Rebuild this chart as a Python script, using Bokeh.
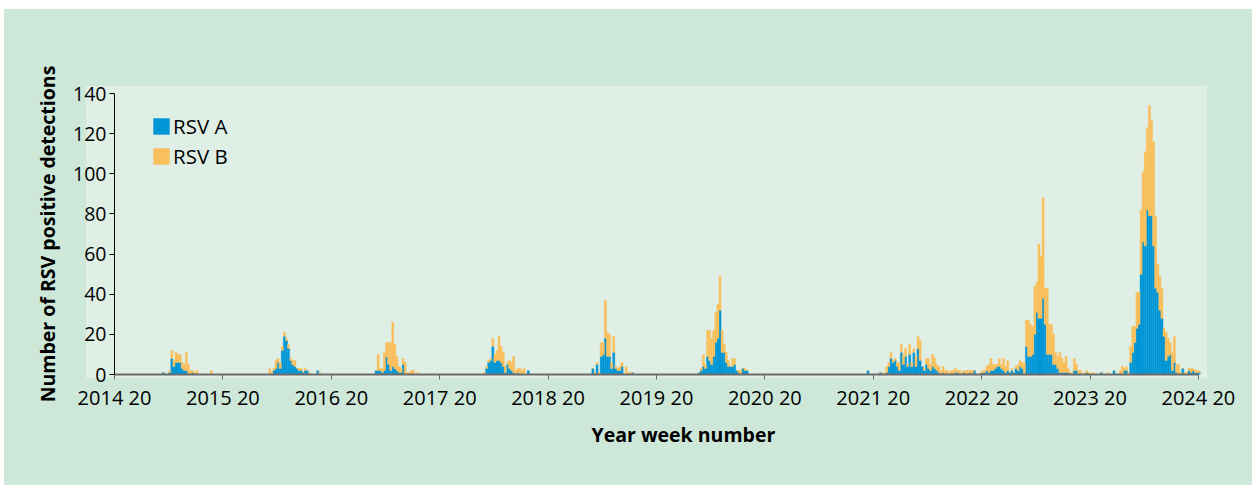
from bokeh.plotting import figure
from bokeh.models import (ColumnDataSource, Range1d, FixedTicker, Legend,
                          LegendItem, Title)
from bokeh.embed import file_html
from bokeh.resources import INLINE

# ---------------- data ----------------
n_weeks = 521  # 2014 week 20 .. 2024 week 20
tick_weeks = [0, 52, 104, 156, 208, 260, 312, 364, 416, 468, 520]
tick_labels = ["2014 20", "2015 20", "2016 20", "2017 20", "2018 20", "2019 20",
               "2020 20", "2021 20", "2022 20", "2023 20", "2024 20"]
y_ticks = [0, 20, 40, 60, 80, 100, 120, 140]

# each season: start week index, RSV A counts, RSV B counts
s2014_start = 23
s2014_a = [1, 0, 0, 1, 8, 4, 6, 6, 6, 3, 2, 2, 0, 0, 1, 0, 0, 0, 0, 0, 0, 0, 0, 0]
s2014_b = [0, 0, 0, 1, 4, 3, 5, 4, 4, 3, 3, 9, 5, 2, 1, 1, 2, 0, 0, 0, 0, 0, 0, 2]

s2015_start = 74
s2015_a = [0, 0, 2, 3, 6, 3, 12, 19, 17, 13, 7, 5, 4, 3, 2, 2, 1, 2, 2, 0, 0, 0, 0, 2, 0]
s2015_b = [3, 1, 1, 4, 2, 3, 2, 2, 1, 2, 1, 2, 3, 0, 1, 1, 0, 1, 0, 1, 0, 0, 0, 0, 1]

s2016_start = 125
s2016_a = [2, 2, 2, 1, 2, 9, 5, 2, 4, 3, 2, 1, 1, 5, 0, 0, 0, 0, 0, 0, 0]
s2016_b = [0, 8, 1, 2, 9, 7, 11, 14, 22, 12, 7, 3, 2, 3, 6, 1, 1, 2, 2, 0, 1]

s2017_start = 177
s2017_a = [0, 3, 6, 7, 14, 6, 7, 7, 6, 4, 1, 5, 3, 2, 1, 0, 1, 0, 0, 0, 0, 2]
s2017_b = [1, 1, 1, 1, 4, 4, 5, 12, 8, 7, 3, 1, 4, 4, 8, 2, 2, 3, 2, 3, 0, 0]

s2018_start = 229
s2018_a = [3, 0, 5, 0, 9, 10, 18, 9, 9, 3, 11, 3, 2, 2, 4, 0, 0, 0, 0, 1]
s2018_b = [0, 1, 1, 1, 7, 6, 19, 12, 11, 3, 8, 1, 1, 2, 2, 0, 4, 1, 1, 0]

s2019_start = 280
s2019_a = [1, 2, 4, 3, 9, 7, 5, 9, 16, 18, 32, 11, 11, 6, 4, 4, 4, 5, 2, 1, 0, 3, 2, 2]
s2019_b = [0, 1, 6, 2, 13, 15, 13, 13, 15, 17, 17, 11, 4, 5, 3, 0, 4, 3, 0, 1, 2, 0, 1, 0]

s2020_start = 361
s2020_a = [2]
s2020_b = [0]

s2021_start = 367
s2021_a = [1, 0, 0, 1, 4, 8, 6, 7, 4, 2, 11, 5, 9, 4, 10, 4, 11, 4, 13, 7,
           4, 2, 5, 3, 2, 4, 3, 2, 1, 0, 1, 0, 0, 0, 0, 0, 1, 1, 0, 0,
           1, 0, 0, 1, 0, 2, 0, 0, 0, 1, 1, 2, 1, 2, 2, 3, 4, 4, 3, 2,
           1, 2, 1, 2, 1, 3, 2, 4, 3, 0]
s2021_b = [0, 0, 1, 3, 2, 3, 1, 1, 2, 4, 4, 5, 4, 1, 5, 2, 2, 5, 6, 10,
           0, 1, 3, 5, 3, 6, 5, 3, 3, 2, 3, 2, 2, 1, 2, 2, 2, 1, 2, 1,
           1, 2, 2, 1, 2, 0, 0, 0, 1, 1, 1, 2, 4, 6, 3, 2, 1, 4, 2, 6,
           3, 5, 0, 1, 0, 1, 3, 3, 3, 6]

s2022_start = 437
s2022_a = [14, 9, 9, 10, 20, 31, 28, 28, 38, 25, 10, 10, 10, 5, 5, 3, 1, 1, 1, 1,
           1, 0, 0, 2, 2, 0, 0, 0, 0, 1, 0, 0, 0]
s2022_b = [13, 18, 16, 14, 24, 15, 37, 31, 50, 18, 33, 15, 15, 15, 6, 6, 10, 7, 5, 8,
           2, 1, 1, 6, 3, 2, 2, 0, 1, 1, 1, 0, 1]

s2023_start = 473
s2023_a = [1, 0, 0, 0, 0, 0, 2, 0, 0, 0, 0, 2, 2, 0, 6, 11, 16, 23, 25, 50,
           66, 64, 82, 79, 79, 64, 43, 41, 32, 28, 19, 7, 9, 10, 2, 6, 1, 0, 0, 3,
           0, 0, 2, 1, 2, 1, 1, 1]
s2023_b = [0, 0, 0, 1, 0, 0, 0, 0, 0, 2, 4, 1, 2, 1, 8, 13, 8, 18, 16, 32,
           35, 47, 41, 55, 48, 52, 36, 14, 17, 15, 4, 14, 9, 6, 9, 13, 4, 5, 1, 0,
           1, 1, 1, 2, 1, 1, 1, 1]

seasons = [
    (s2014_start, s2014_a, s2014_b), (s2015_start, s2015_a, s2015_b),
    (s2016_start, s2016_a, s2016_b), (s2017_start, s2017_a, s2017_b),
    (s2018_start, s2018_a, s2018_b), (s2019_start, s2019_a, s2019_b),
    (s2020_start, s2020_a, s2020_b), (s2021_start, s2021_a, s2021_b),
    (s2022_start, s2022_a, s2022_b), (s2023_start, s2023_a, s2023_b),
]

rsv_a = [0] * n_weeks
rsv_b = [0] * n_weeks
for start, a_vals, b_vals in seasons:
    for k, (a, b) in enumerate(zip(a_vals, b_vals)):
        if start + k < n_weeks:
            rsv_a[start + k] = a
            rsv_b[start + k] = b

src = ColumnDataSource(dict(x=[i + 0.5 for i in range(n_weeks)], rsv_a=rsv_a, rsv_b=rsv_b))

# ---------------- style ----------------
BLUE = "#0096D6"
ORANGE = "#F9BF5C"
DARK_BG = "#CDE7D8"
LIGHT_BG = "#E0EFE6"
FONT = "Open Sans"

W, H = 1248, 476
p = figure(width=W, height=H, output_backend="svg", toolbar_location=None,
           x_range=Range1d(0, 521), y_range=Range1d(0, 140),
           min_border_left=110, min_border_right=52, min_border_top=84, min_border_bottom=111,
           background_fill_alpha=0, border_fill_alpha=0,
           outline_line_color=None, margin=(9, 5, 2, 4))
# light plot-area panel (extends a little beyond the axes) over the dark chart area
p.styles = {
    "background": (f"linear-gradient({LIGHT_BG}, {LIGHT_BG}) 82px 77px / 1121px 292px no-repeat, "
                   f"{DARK_BG}")
}

renderers = p.vbar_stack(["rsv_a", "rsv_b"], x="x", width=1.0, source=src,
                         fill_color=[BLUE, ORANGE], line_color=[BLUE, ORANGE], line_width=0.4)

p.xgrid.visible = False
p.ygrid.visible = False

xa = p.xaxis[0]
xa.bounds = (0, 520)
xa.ticker = FixedTicker(ticks=tick_weeks)
xa.major_label_overrides = {int(w): lab for w, lab in zip(tick_weeks, tick_labels)}
xa.axis_line_color = "#6b6b6b"
xa.axis_line_width = 2
xa.major_tick_line_color = "#6b6b6b"
xa.major_tick_out = 5
xa.major_tick_in = 0
xa.minor_tick_line_color = None
xa.major_label_text_font = FONT
xa.major_label_text_font_size = "20px"
xa.major_label_text_color = "black"
xa.major_label_standoff = 4

# x axis title, set a little right of centre like the original
xtitle = Title(text="Year week number", align="left", offset=477, standoff=10,
               text_font=FONT, text_font_size="19.5px", text_font_style="bold",
               text_color="black")
p.add_layout(xtitle, "below")

ya = p.yaxis[0]
ya.bounds = (0, 140)
ya.ticker = FixedTicker(ticks=y_ticks)
ya.axis_line_color = "black"
ya.axis_line_width = 1
ya.major_tick_line_color = "black"
ya.major_tick_out = 5
ya.major_tick_in = 0
ya.minor_tick_line_color = None
ya.major_label_text_font = FONT
ya.major_label_text_font_size = "19.5px"
ya.major_label_text_color = "black"
ya.major_label_standoff = 3
ya.axis_label = "Number of RSV positive detections"
ya.axis_label_text_font = FONT
ya.axis_label_text_font_size = "19.5px"
ya.axis_label_text_font_style = "bold"
ya.axis_label_text_color = "black"
ya.axis_label_standoff = 9

legend = Legend(items=[LegendItem(label="RSV A", renderers=[renderers[0]]),
                       LegendItem(label="RSV B", renderers=[renderers[1]])],
                location=(37, 204), orientation="vertical",
                glyph_width=20, glyph_height=20, label_height=20, spacing=2,
                label_standoff=2, padding=0, margin=0,
                label_text_font=FONT, label_text_font_size="20.5px",
                label_text_color="black",
                background_fill_alpha=0, border_line_color=None)
p.add_layout(legend)

open("out.html", "w").write(file_html(p, INLINE))
